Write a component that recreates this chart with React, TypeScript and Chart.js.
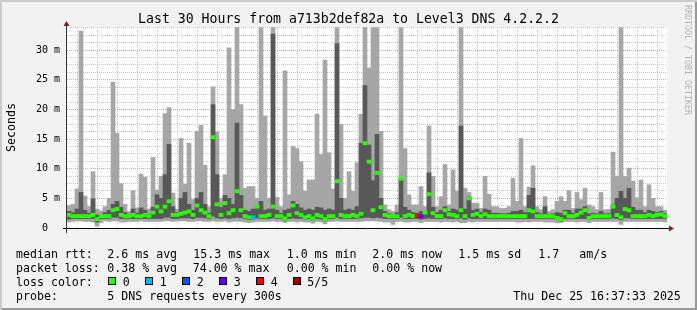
import React, { useEffect, useRef } from 'react';
import { Chart, registerables } from 'chart.js';

Chart.register(...registerables);

if (typeof document !== 'undefined') {
  document.body.style.margin = '0';
}

// ---- data ----
const TITLE = 'Last 30 Hours from a713b2def82a to Level3 DNS 4.2.2.2';
const START_HOUR = 10.7; // hours counted from Wed 00:00
const END_HOUR = 40.7;
const SLOT_HOURS = 0.2; // one sample column = 12 minutes

// outer smoke (fastest .. slowest ping), ms
const maxMs = [
  3.8, 4.0, 6.6, 33.2, 5.4, 3.6, 9.5, 3.2, 2.9, 3.6,
  5.0, 24.6, 16.0, 7.5, 4.0, 2.8, 6.3, 3.4, 9.1, 8.6,
  3.2, 11.9, 6.4, 8.7, 19.3, 20.3, 5.9, 3.2, 15.1, 7.4,
  14.3, 4.8, 16.3, 17.3, 10.6, 3.6, 23.8, 16.2, 5.0, 9.0,
  30.4, 20.0, 33.8, 20.8, 6.7, 7.0, 7.0, 5.0, 33.8, 18.9,
  5.0, 33.8, 5.2, 3.6, 26.5, 5.6, 13.8, 13.4, 11.2, 6.2,
  8.1, 8.1, 19.2, 12.4, 28.3, 12.7, 6.6, 33.8, 17.5, 5.0,
  9.5, 6.2, 11.0, 19.2, 33.8, 27.0, 33.8, 33.8, 16.3, 3.9,
  3.1, 2.8, 3.9, 33.8, 13.4, 5.6, 3.9, 3.9, 7.0, 3.6,
  17.2, 8.7, 3.6, 5.3, 10.7, 3.9, 9.8, 6.2, 33.8, 6.7,
  6.0, 4.2, 4.2, 3.3, 8.7, 5.7, 3.6, 3.6, 3.3, 3.3,
  3.6, 8.4, 4.5, 15.1, 3.6, 6.9, 10.5, 3.6, 3.1, 5.3,
  2.8, 3.1, 4.5, 5.3, 4.5, 6.3, 3.3, 6.0, 4.8, 6.7,
  3.9, 3.6, 3.1, 6.0, 3.1, 3.1, 12.8, 8.7, 33.8, 8.7,
  10.1, 7.9, 5.1, 8.1, 3.6, 7.3, 5.0, 3.6, 3.6, 3.0,
];
const minMs = [
  1.0, 1.1, 1.2, 1.2, 1.1, 1.1, 1.0, 0.3, 0.9, 1.2,
  1.1, 1.2, 1.2, 1.0, 1.0, 1.1, 1.1, 1.1, 1.2, 1.1,
  1.1, 1.1, 1.1, 1.1, 1.2, 1.2, 1.1, 1.2, 1.2, 1.2,
  1.1, 1.1, 1.2, 1.2, 1.1, 1.1, 1.2, 1.1, 1.1, 1.2,
  1.0, 1.1, 1.2, 1.1, 1.0, 0.9, 1.0, 1.1, 1.1, 1.1,
  1.1, 1.2, 1.1, 1.1, 0.9, 1.1, 1.1, 1.0, 1.1, 1.0,
  1.0, 0.8, 1.1, 1.0, 0.7, 1.1, 1.1, 1.2, 1.1, 1.1,
  1.1, 1.1, 1.1, 1.1, 1.2, 1.2, 1.2, 1.2, 1.1, 1.0,
  1.0, 0.6, 1.1, 1.1, 1.0, 1.0, 1.1, 1.1, 0.9, 1.1,
  1.1, 1.1, 1.1, 1.0, 1.1, 1.1, 1.0, 1.1, 0.9, 0.9,
  1.1, 1.0, 1.1, 1.1, 1.1, 1.1, 1.1, 1.1, 1.1, 1.1,
  1.1, 1.1, 1.0, 1.0, 1.1, 1.0, 1.1, 1.1, 1.1, 1.0,
  1.0, 1.0, 0.9, 0.9, 1.1, 1.1, 1.1, 1.0, 1.1, 1.1,
  0.9, 1.1, 1.1, 1.1, 1.1, 1.1, 1.1, 1.1, 0.6, 1.1,
  1.1, 1.1, 1.1, 1.1, 1.1, 1.1, 1.1, 1.1, 1.1, 1.0,
];
// inner smoke (2nd .. 4th ping), ms
const upperMs = [
  2.8, 2.6, 3.2, 6.0, 3.0, 2.5, 4.9, 2.2, 2.2, 2.6,
  3.0, 4.0, 4.5, 3.5, 2.6, 2.3, 3.2, 2.5, 3.4, 3.0,
  2.3, 3.5, 5.6, 5.0, 9.0, 14.1, 3.6, 2.6, 5.0, 6.0,
  4.0, 3.0, 5.0, 6.0, 4.0, 2.5, 20.8, 9.0, 3.5, 5.5,
  5.0, 4.0, 17.7, 5.5, 3.0, 2.8, 3.2, 3.8, 4.5, 3.0,
  3.2, 32.7, 3.0, 2.5, 3.0, 3.2, 4.5, 4.0, 3.4, 3.0,
  3.2, 3.0, 3.5, 3.4, 3.0, 3.2, 3.0, 31.1, 5.0, 3.0,
  3.2, 3.0, 3.6, 14.3, 24.0, 14.0, 8.0, 15.8, 5.0, 2.8,
  2.4, 2.3, 2.6, 8.3, 3.5, 3.0, 2.6, 2.5, 2.8, 2.8,
  9.3, 3.5, 2.6, 3.0, 3.6, 2.8, 3.2, 3.0, 17.2, 3.2,
  5.3, 3.0, 3.2, 2.6, 3.2, 3.0, 2.5, 2.5, 2.4, 2.4,
  2.5, 2.8, 2.8, 3.0, 2.6, 5.5, 6.7, 2.6, 2.4, 3.6,
  2.3, 2.4, 2.6, 2.5, 3.0, 3.0, 2.5, 3.2, 3.2, 3.6,
  2.4, 2.5, 2.4, 2.8, 2.4, 2.4, 3.9, 5.0, 6.2, 5.0,
  6.7, 3.5, 3.0, 3.0, 2.6, 3.0, 2.8, 2.6, 2.8, 2.4,
];
const lowerMs = [
  1.5, 1.6, 1.6, 1.6, 1.6, 1.6, 1.6, 1.0, 1.6, 1.6,
  1.6, 1.8, 1.8, 1.6, 1.6, 1.6, 1.6, 1.6, 1.6, 1.6,
  1.6, 1.6, 1.6, 1.6, 1.8, 1.8, 1.6, 1.6, 1.7, 1.7,
  1.7, 1.6, 1.8, 1.8, 1.7, 1.6, 2.0, 1.7, 1.6, 1.7,
  1.6, 1.7, 1.8, 1.7, 1.6, 1.4, 1.5, 1.7, 1.6, 1.6,
  1.6, 1.7, 1.6, 1.6, 1.3, 1.6, 1.7, 1.6, 1.6, 1.5,
  1.6, 1.3, 1.6, 1.5, 1.2, 1.6, 1.6, 1.8, 1.6, 1.6,
  1.6, 1.6, 1.6, 1.7, 1.8, 1.8, 1.7, 1.8, 1.7, 1.6,
  1.6, 1.6, 1.6, 1.8, 1.6, 1.6, 1.6, 1.6, 1.5, 1.6,
  1.7, 1.6, 1.6, 1.6, 1.7, 1.6, 1.6, 1.6, 1.7, 1.5,
  1.7, 1.6, 1.6, 1.6, 1.6, 1.6, 1.6, 1.6, 1.6, 1.6,
  1.6, 1.6, 1.6, 1.6, 1.6, 1.6, 1.6, 1.6, 1.6, 1.6,
  1.6, 1.6, 1.4, 1.2, 1.6, 1.6, 1.6, 1.6, 1.6, 1.6,
  1.4, 1.6, 1.6, 1.6, 1.6, 1.6, 1.7, 1.6, 1.4, 1.7,
  1.7, 1.6, 1.6, 1.6, 1.6, 1.6, 1.6, 1.6, 1.6, 1.6,
];
// median rtt, ms
const medianMs = [
  2.2, 2.0, 2.0, 2.0, 2.0, 2.0, 2.2, 1.5, 2.0, 2.0,
  2.0, 3.0, 3.2, 2.2, 2.0, 2.0, 2.2, 2.0, 2.0, 2.2,
  2.0, 2.6, 3.6, 2.8, 3.6, 4.5, 2.2, 2.2, 2.4, 2.6,
  2.8, 2.2, 3.8, 3.0, 2.6, 2.0, 15.3, 4.0, 2.2, 4.2,
  2.5, 3.0, 6.2, 3.0, 2.0, 1.8, 1.8, 3.6, 2.0, 2.0,
  2.2, 3.6, 2.0, 2.0, 1.6, 2.2, 3.8, 2.5, 2.2, 1.8,
  2.0, 1.6, 2.2, 2.0, 1.5, 2.0, 2.0, 7.9, 2.2, 2.0,
  2.0, 2.2, 2.0, 2.4, 14.3, 11.2, 3.0, 9.3, 3.5, 2.2,
  2.0, 2.0, 2.0, 8.3, 2.0, 2.2, 2.0, 2.0, 2.0, 2.6,
  5.7, 2.5, 2.0, 2.0, 3.0, 2.3, 2.2, 2.0, 3.0, 2.0,
  5.0, 2.2, 2.4, 2.0, 2.3, 2.0, 2.0, 2.0, 2.0, 2.0,
  2.0, 2.0, 2.0, 2.0, 2.0, 3.0, 2.8, 2.0, 2.0, 2.0,
  2.0, 2.0, 1.7, 1.5, 2.5, 2.0, 2.0, 2.2, 2.6, 3.0,
  1.7, 2.0, 2.0, 2.0, 2.0, 2.0, 3.6, 2.2, 1.8, 3.2,
  3.0, 2.0, 2.0, 2.0, 2.0, 2.2, 2.0, 2.2, 2.3, 2.0,
];
// lost pings per sample (only non-zero samples listed)
const lossBySlot: Record<number, number> = { 46: 1, 87: 4, 88: 3 };
const lossColors = ['#26ff00', '#00b8ff', '#0059ff', '#5e00ff', '#ff0000', '#a10000'];
const lossLabels = ['0', '1', '2', '3', '4', '5/5'];

const xTicks = [
  { hour: 12, label: 'Wed 12:00' },
  { hour: 18, label: 'Wed 18:00' },
  { hour: 24, label: 'Thu 00:00' },
  { hour: 30, label: 'Thu 06:00' },
  { hour: 36, label: 'Thu 12:00' },
];
const Y_MAX = 33.9;
const Y_MINOR = 1.25;
const Y_LABEL_EVERY = 5;

const rttStats = ['2.6 ms avg', '15.3 ms max', '1.0 ms min', '2.0 ms now', '1.5 ms sd', '1.7', 'am/s'];
const lossStats = ['0.38 % avg', '74.00 % max', '0.00 % min', '0.00 % now'];
const probeText = '5 DNS requests every 300s';
const stampText = 'Thu Dec 25 16:37:33 2025';
const watermark = 'RRDTOOL / TOBI OETIKER';

// ---- layout / style ----
const W = 697;
const H = 310;
const MONO = "'DejaVu Sans Mono', 'Liberation Mono', monospace";
const MEDIAN_HALF = 0.27;
const rttX = [107.3, 193.3, 286.7, 372.3, 458.3, 538.3, 579.3];
const lossX = [107.3, 192.7, 286.7, 372.3];
const boxX = [108, 145, 182, 219, 256, 292.5];

const rrdPlugin = {
  id: 'rrdFrame',
  beforeDraw(chart: any) {
    const { ctx, chartArea: a } = chart;
    ctx.save();
    ctx.fillStyle = '#ffffff';
    ctx.fillRect(a.left, a.top, a.right - a.left, a.bottom - a.top);
    ctx.restore();
  },
  afterDraw(chart: any) {
    const { ctx, chartArea: a } = chart;
    ctx.save();
    ctx.strokeStyle = '#000000';
    ctx.lineWidth = 1;
    ctx.beginPath();
    ctx.moveTo(a.left - 4, a.bottom + 0.5);
    ctx.lineTo(a.right + 3, a.bottom + 0.5);
    ctx.stroke();
    ctx.strokeStyle = '#333333';
    ctx.beginPath();
    ctx.moveTo(a.left - 0.5, a.bottom + 5);
    ctx.lineTo(a.left - 0.5, a.top - 1);
    ctx.stroke();
    ctx.fillStyle = '#8b1c1c';
    ctx.beginPath();
    ctx.moveTo(a.left - 3.5, a.top - 1);
    ctx.lineTo(a.left + 2.5, a.top - 1);
    ctx.lineTo(a.left - 0.5, a.top - 6);
    ctx.closePath();
    ctx.fill();
    ctx.beginPath();
    ctx.moveTo(a.right + 2, a.bottom - 2.5);
    ctx.lineTo(a.right + 2, a.bottom + 3.5);
    ctx.lineTo(a.right + 7, a.bottom + 0.5);
    ctx.closePath();
    ctx.fill();
    ctx.restore();
  },
};

const gridMinor = 'rgba(130,130,130,0.45)';
const gridMajor = 'rgba(225,50,50,0.5)';
const isMult = (v: number, m: number) => {
  const r = Math.abs(v % m);
  return r < 1e-6 || Math.abs(r - m) < 1e-6;
};

export default function App() {
  const ref = useRef<HTMLCanvasElement>(null);

  useEffect(() => {
    const canvas = ref.current;
    if (!canvas) return;
    const slotX = (i: number) => START_HOUR + SLOT_HOURS * (i + 0.5);
    const smoke = maxMs.map((v, i) => ({ x: slotX(i), y: [minMs[i], v] }));
    const core = upperMs.map((v, i) => ({ x: slotX(i), y: [lowerMs[i], v] }));
    const med = medianMs.map((v, i) => ({ x: slotX(i), y: [v - MEDIAN_HALF, v + MEDIAN_HALF] }));
    const medColors = medianMs.map((_, i) => lossColors[lossBySlot[i] ?? 0]);

    const chart = new Chart(canvas, {
      type: 'bar',
      data: {
        datasets: [
          { label: 'median', data: med as any, backgroundColor: medColors, order: 0, grouped: false, borderWidth: 0 } as any,
          { label: 'inner', data: core as any, backgroundColor: '#585858', order: 1, grouped: false, borderWidth: 0 } as any,
          { label: 'outer', data: smoke as any, backgroundColor: '#a6a6a6', order: 2, grouped: false, borderWidth: 0 } as any,
        ],
      },
      options: {
        animation: false,
        responsive: false,
        maintainAspectRatio: false,
        events: [],
        layout: { padding: { left: 0, top: 27, right: 30, bottom: 62 } },
        datasets: { bar: { barPercentage: 1, categoryPercentage: 1 } } as any,
        plugins: { legend: { display: false }, tooltip: { enabled: false }, title: { display: false } },
        scales: {
          x: {
            type: 'linear',
            min: START_HOUR,
            max: END_HOUR,
            offset: false,
            ticks: {
              stepSize: 1,
              includeBounds: false,
              autoSkip: false,
              maxRotation: 0,
              padding: 3,
              color: '#000',
              font: { family: MONO, size: 10 },
              callback: (value: any) => {
                const t = xTicks.find((k) => Math.abs(k.hour - Number(value)) < 1e-6);
                return t ? t.label : '';
              },
            },
            grid: {
              drawTicks: false,
              lineWidth: 1,
              color: (c: any) => (c && c.tick && isMult(c.tick.value, 3) ? gridMajor : gridMinor),
            },
            border: { display: false, dash: [1, 1] },
            afterFit: (s: any) => {
              s.height = 20;
              s.paddingLeft = 0;
              s.paddingRight = 0;
            },
          } as any,
          y: {
            type: 'linear',
            min: 0,
            max: Y_MAX,
            ticks: {
              stepSize: Y_MINOR,
              includeBounds: false,
              autoSkip: false,
              padding: 7,
              color: '#000',
              font: { family: MONO, size: 10 },
              callback: (value: any) => {
                const v = Number(value);
                if (!isMult(v, Y_LABEL_EVERY)) return '';
                return v === 0 ? '0  ' : `${v} m`;
              },
            },
            grid: {
              drawTicks: false,
              lineWidth: 1,
              color: (c: any) => (c && c.tick && isMult(c.tick.value, Y_LABEL_EVERY) ? gridMajor : gridMinor),
            },
            border: { display: false, dash: [1, 1] },
            afterFit: (s: any) => {
              s.width = 67;
              s.paddingTop = 0;
              s.paddingBottom = 0;
            },
          } as any,
        },
      },
      plugins: [rrdPlugin],
    });
    return () => chart.destroy();
  }, []);

  const text: React.CSSProperties = {
    position: 'absolute',
    fontFamily: MONO,
    fontSize: '11.6px',
    lineHeight: '14px',
    whiteSpace: 'pre',
    color: '#000',
  };
  const row = (cy: number) => cy - 7;

  return (
    <div
      style={{
        position: 'relative',
        width: W,
        height: H,
        background: '#f2f2f2',
        boxShadow: 'inset 2px 2px 0 #cbcbcb, inset -2px -2px 0 #999999',
        overflow: 'hidden',
      }}
    >
      <canvas ref={ref} width={W} height={H} style={{ position: 'absolute', left: 0, top: 0, width: W, height: H }} />
      <div
        style={{
          position: 'absolute',
          left: 0,
          top: 11,
          width: W,
          textAlign: 'center',
          fontFamily: MONO,
          fontSize: '13.2px',
          lineHeight: '16px',
          whiteSpace: 'pre',
          color: '#000',
        }}
      >
        {TITLE}
      </div>
      <div
        style={{
          ...text,
          left: 3.5,
          top: 103,
          width: 14,
          height: 49,
          writingMode: 'vertical-rl',
          transform: 'rotate(180deg)',
        }}
      >
        Seconds
      </div>
      <div
        style={{
          position: 'absolute',
          left: 683,
          top: 5,
          width: 10,
          fontFamily: MONO,
          fontSize: '8.3px',
          lineHeight: '10px',
          writingMode: 'vertical-rl',
          whiteSpace: 'pre',
          color: '#b4b4b4',
        }}
      >
        {watermark}
      </div>

      <div style={{ ...text, left: 16, top: row(254) }}>median rtt:</div>
      {rttStats.map((s, i) => (
        <div key={'r' + i} style={{ ...text, left: rttX[i], top: row(254) }}>{s}</div>
      ))}
      <div style={{ ...text, left: 16, top: row(268) }}>packet loss:</div>
      {lossStats.map((s, i) => (
        <div key={'l' + i} style={{ ...text, left: lossX[i], top: row(268) }}>{s}</div>
      ))}
      <div style={{ ...text, left: 16, top: row(282) }}>loss color:</div>
      {lossLabels.map((s, i) => (
        <React.Fragment key={'c' + i}>
          <div
            style={{
              position: 'absolute',
              left: boxX[i],
              top: 277,
              width: 8,
              height: 8,
              boxSizing: 'border-box',
              border: '1px solid #000',
              background: lossColors[i],
            }}
          />
          <div style={{ ...text, left: boxX[i] + 14.7, top: row(282) }}>{s}</div>
        </React.Fragment>
      ))}
      <div style={{ ...text, left: 16, top: row(296) }}>probe:</div>
      <div style={{ ...text, left: 107.3, top: row(296) }}>{probeText}</div>
      <div style={{ ...text, left: 513.3, top: row(296) }}>{stampText}</div>
    </div>
  );
}
